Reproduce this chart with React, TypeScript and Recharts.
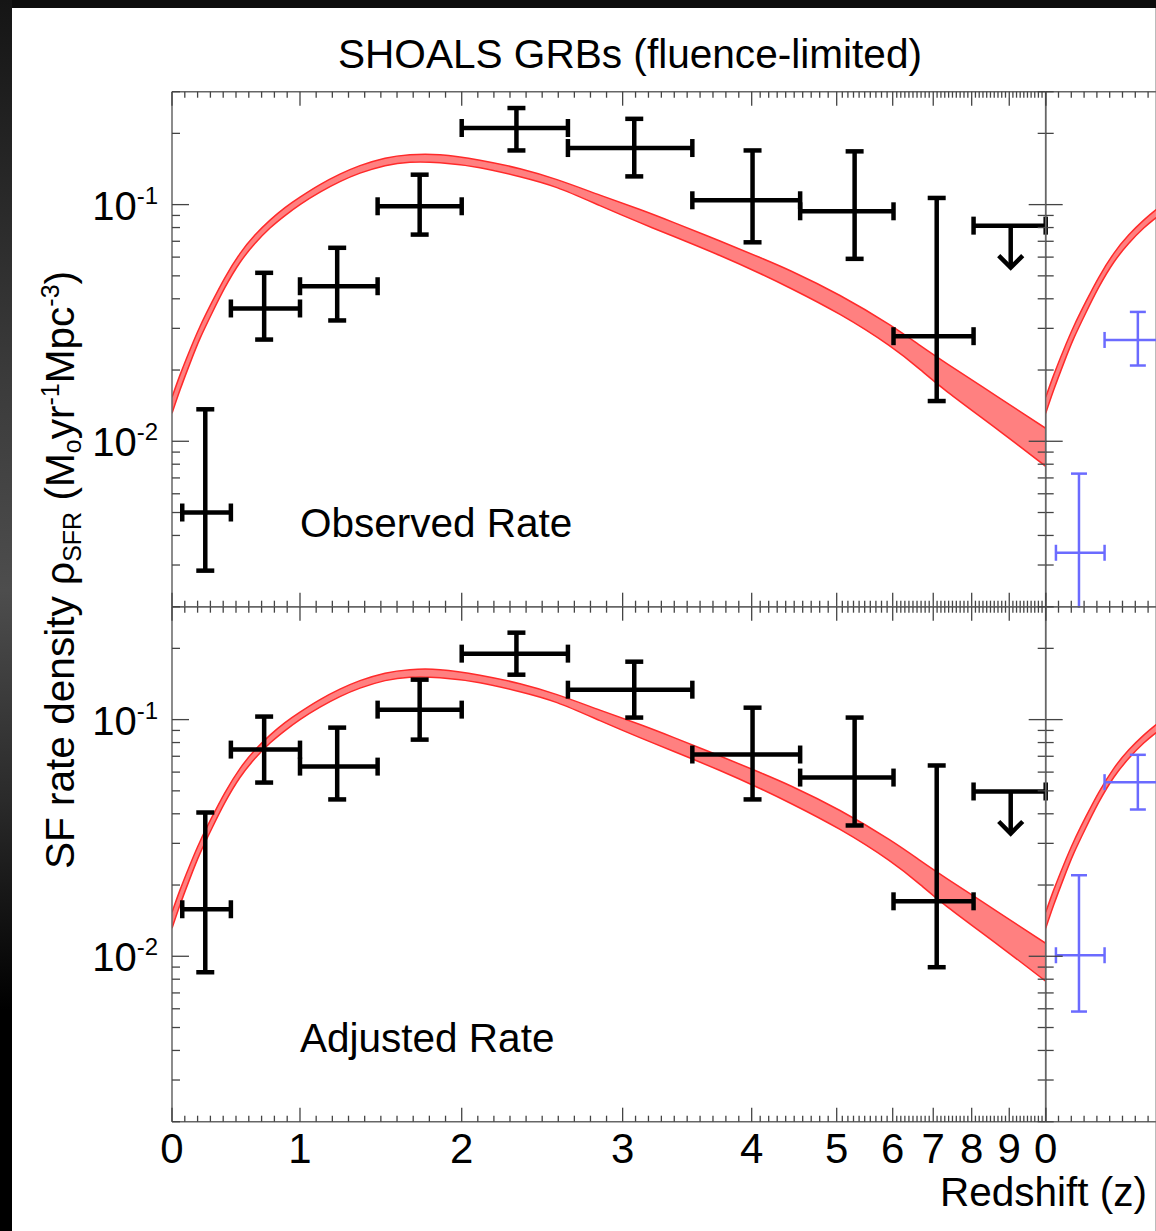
import { Area, ComposedChart, ErrorBar, Scatter, XAxis, YAxis } from 'recharts'

// horizontal axis is warped: where each whole redshift sits on a 0..10 track
const AXIS_Z = [0, 1, 2, 3, 4, 5, 6, 7, 8, 9, 10]
const AXIS_U = [0, 1.465, 3.316, 5.158, 6.635, 7.608, 8.249, 8.713, 9.153, 9.583, 10]

const Y_TICKS = [
  0.002, 0.003, 0.004, 0.005, 0.006, 0.007, 0.008, 0.009,
  0.01, 0.02, 0.03, 0.04, 0.05, 0.06, 0.07, 0.08, 0.09,
  0.1, 0.2, 0.3,
]
const X_LABELS = ['0', '1', '2', '3', '4', '5', '6', '7', '8', '9']

// model band (upper / lower edge of the SFR curve)
const CURVE_Z = [
  0, 0.063, 0.141, 0.219, 0.313, 0.414, 0.531, 0.648, 0.766, 0.883, 1.0, 1.124, 1.247, 1.371, 1.526, 1.68,
  1.866, 2.113, 2.362, 2.592, 2.859, 3.134, 3.398, 3.754, 4.098, 4.474, 5.059, 5.934, 6.672, 7.384, 8.753, 10,
]
const CURVE_HI = [
  0.01533, 0.01908, 0.02438, 0.03056, 0.03879, 0.0492, 0.0621, 0.07436, 0.08603, 0.09712, 0.10754, 0.12148, 0.13446, 0.1461, 0.15713, 0.16255,
  0.16255, 0.1541, 0.1418, 0.1275, 0.1097, 0.0953, 0.0839, 0.0702, 0.05974, 0.05217, 0.0413, 0.03116, 0.02541, 0.02113, 0.01518, 0.01135,
]
const CURVE_LO = [
  0.01312, 0.0165, 0.02139, 0.0272, 0.03484, 0.04466, 0.05692, 0.06845, 0.07961, 0.08987, 0.1, 0.11289, 0.12503, 0.13582, 0.1461, 0.15114,
  0.15041, 0.1432, 0.1312, 0.118, 0.099, 0.0839, 0.0733, 0.06092, 0.05116, 0.044, 0.03434, 0.02541, 0.02013, 0.0161, 0.01102, 0.00784,
]

// redshift bins
const BIN_LO = [0.08, 0.46, 1.0, 1.48, 2.0, 2.66, 3.54, 4.57, 6.02]
const BIN_MID = [0.26, 0.72, 1.23, 1.74, 2.34, 3.09, 4.01, 5.32, 7.09]
const BIN_HI = [0.46, 1.0, 1.48, 2.0, 2.66, 3.54, 4.57, 6.02, 8.05]
const LIMIT_BIN = [8.05, 9.04, 10]

const OBS_RATE = [0.005, 0.0364, 0.0452, 0.0984, 0.2107, 0.1734, 0.1043, 0.0937, 0.0278]
const OBS_HI = [0.01365, 0.0515, 0.0657, 0.1338, 0.2559, 0.2304, 0.1694, 0.1679, 0.1067]
const OBS_LO = [0.00284, 0.0269, 0.0324, 0.0747, 0.1694, 0.1316, 0.0693, 0.059, 0.01479]
const OBS_LIMIT = 0.0815

const ADJ_RATE = [0.0158, 0.0747, 0.0633, 0.1102, 0.19, 0.1338, 0.0712, 0.0569, 0.01707]
const ADJ_HI = [0.0405, 0.103, 0.0925, 0.1475, 0.233, 0.1757, 0.1123, 0.102, 0.064]
const ADJ_LO = [0.00856, 0.0542, 0.046, 0.0823, 0.1548, 0.102, 0.046, 0.0357, 0.00899]
const ADJ_LIMIT = 0.0497

// second sample (right-hand panel, only first bins visible)
const ALT_OBS_RATE = [0.00338, 0.0268]
const ALT_OBS_HI = [0.0073, 0.0352]
const ALT_OBS_LO = [0.0015, 0.0209]
const ALT_ADJ_RATE = [0.0101, 0.0544]
const ALT_ADJ_HI = [0.022, 0.071]
const ALT_ADJ_LO = [0.00584, 0.0417]

const FONT = "'Liberation Sans', Arial, Helvetica, sans-serif"
const PLOT_W = 873.7
const PLOT_H = 515
const AXIS_LINE = { stroke: '#666', strokeWidth: 1.5 }

const warp = (z: number) => {
  for (let i = 1; i < AXIS_Z.length; i++) {
    if (z <= AXIS_Z[i]) {
      const t = (z - AXIS_Z[i - 1]) / (AXIS_Z[i] - AXIS_Z[i - 1])
      return AXIS_U[i - 1] + t * (AXIS_U[i] - AXIS_U[i - 1])
    }
  }
  return AXIS_U[AXIS_U.length - 1]
}

const MAJOR_U = AXIS_Z.map(warp)
const X_TICKS: number[] = []
AXIS_Z.forEach((z, i) => {
  X_TICKS.push(warp(z))
  if (i < AXIS_Z.length - 1) for (let k = 1; k < 10; k++) X_TICKS.push(warp(z + k / 10))
})

const bandRows = CURVE_Z.map((z, i) => ({ u: warp(z), band: [CURVE_LO[i], CURVE_HI[i]] }))

const buildPoints = (rate: number[], lo: number[], hi: number[]) =>
  rate.map((v, i) => {
    const u = warp(BIN_MID[i])
    return {
      u,
      v,
      ex: [u - warp(BIN_LO[i]), warp(BIN_HI[i]) - u],
      ey: [v - lo[i], hi[i] - v],
    }
  })

const buildLimit = (v: number) => {
  const u = warp(LIMIT_BIN[1])
  return [{ u, v, ex: [u - warp(LIMIT_BIN[0]), warp(LIMIT_BIN[2]) - u] }]
}

const renderNone = () => <g />

const ArrowDown = (props: any) => {
  const { cx, cy } = props
  return (
    <g stroke="#000" strokeWidth={4.5} fill="none">
      <line x1={cx} y1={cy} x2={cx} y2={cy + 42} />
      <polyline points={`${cx - 12},${cy + 30} ${cx},${cy + 42} ${cx + 12},${cy + 30}`} />
    </g>
  )
}

const xTick = (side: 'top' | 'bottom', labelCount: number) => (props: any) => {
  const { x, y, payload } = props
  const major = MAJOR_U.findIndex((u) => Math.abs(u - payload.value) < 1e-6)
  const len = major >= 0 ? 14 : 6
  const dir = side === 'bottom' ? -1 : 1
  return (
    <g>
      <line x1={x} y1={y} x2={x} y2={y + dir * len} stroke="#444" strokeWidth={1.3} />
      {major >= 0 && major < labelCount && (
        <text x={x} y={y + 41} textAnchor="middle" fontSize={42} fill="#000">
          {X_LABELS[major]}
        </text>
      )}
    </g>
  )
}

const yTick = (side: 'left' | 'right', labels: boolean) => (props: any) => {
  const { x, y, payload } = props
  const lg = Math.log10(payload.value)
  const exp = Math.round(lg)
  const major = Math.abs(lg - exp) < 1e-6
  const len = major ? 17 : 8
  const dir = side === 'left' ? 1 : -1
  return (
    <g>
      <line x1={x} y1={y} x2={x + dir * len} y2={y} stroke="#444" strokeWidth={1.3} />
      {labels && major && (
        <text x={x - 14} y={y + 15} textAnchor="end" fill="#000">
          <tspan fontSize={40}>10</tspan>
          <tspan fontSize={24} dy={-16}>{String(exp)}</tspan>
        </text>
      )}
    </g>
  )
}

type PanelProps = {
  plotLeft: number
  plotTop: number
  points: ReturnType<typeof buildPoints>
  limit?: ReturnType<typeof buildLimit>
  color: string
  barWidth: number
  cap: number
  xLabelCount: number
  yLabels: boolean
  clipBottom?: boolean
}

function Panel({ plotLeft, plotTop, points, limit, color, barWidth, cap, xLabelCount, yLabels, clipBottom }: PanelProps) {
  const width = plotLeft + PLOT_W + 60
  const height = plotTop + PLOT_H + 80
  const box: React.CSSProperties = clipBottom
    ? { position: 'absolute', left: 0, top: 0, width, height: plotTop + PLOT_H + 1, overflow: 'hidden' }
    : { position: 'absolute', left: 0, top: 0 }
  return (
    <div style={box}>
      <ComposedChart
        width={width}
        height={height}
        data={bandRows}
        margin={{ top: plotTop - 1, left: plotLeft - 1, right: 59, bottom: 79 }}
      >
        <XAxis xAxisId="b" dataKey="u" type="number" domain={[0, 10]} allowDataOverflow ticks={X_TICKS} interval={0}
          orientation="bottom" height={1} tickSize={0} tickMargin={0} tickLine={false} axisLine={AXIS_LINE}
          tick={xTick('bottom', xLabelCount)} />
        <XAxis xAxisId="t" dataKey="u" type="number" domain={[0, 10]} allowDataOverflow ticks={X_TICKS} interval={0}
          orientation="top" height={1} tickSize={0} tickMargin={0} tickLine={false} axisLine={AXIS_LINE}
          tick={xTick('top', 0)} />
        <YAxis yAxisId="l" type="number" scale="log" domain={[0.002, 0.3]} allowDataOverflow ticks={Y_TICKS} interval={0}
          width={1} tickSize={0} tickMargin={0} tickLine={false} axisLine={AXIS_LINE} tick={yTick('left', yLabels)} />
        <YAxis yAxisId="r" orientation="right" type="number" scale="log" domain={[0.002, 0.3]} allowDataOverflow ticks={Y_TICKS}
          interval={0} width={1} tickSize={0} tickMargin={0} tickLine={false} axisLine={AXIS_LINE} tick={yTick('right', false)} />
        <Area xAxisId="b" yAxisId="l" type="natural" dataKey="band" stroke="#ff2a2a" strokeWidth={1.5}
          fill="#ff8080" fillOpacity={1} isAnimationActive={false} />
        <Scatter xAxisId="b" yAxisId="l" data={points} dataKey="v" shape={renderNone} isAnimationActive={false}>
          <ErrorBar direction="x" dataKey="ex" stroke={color} strokeWidth={barWidth} width={cap} />
          <ErrorBar direction="y" dataKey="ey" stroke={color} strokeWidth={barWidth} width={cap} />
        </Scatter>
        {limit && (
          <Scatter xAxisId="b" yAxisId="l" data={limit} dataKey="v" shape={ArrowDown} isAnimationActive={false}>
            <ErrorBar direction="x" dataKey="ex" stroke={color} strokeWidth={barWidth} width={cap} />
          </Scatter>
        )}
      </ComposedChart>
    </div>
  )
}

export default function App() {
  const obs = buildPoints(OBS_RATE, OBS_LO, OBS_HI)
  const adj = buildPoints(ADJ_RATE, ADJ_LO, ADJ_HI)
  const altObs = buildPoints(ALT_OBS_RATE, ALT_OBS_LO, ALT_OBS_HI)
  const altAdj = buildPoints(ALT_ADJ_RATE, ALT_ADJ_LO, ALT_ADJ_HI)
  return (
    <div style={{ position: 'fixed', left: 0, top: 0, width: 1156, height: 1231, overflow: 'hidden', background: '#0d0d0d', fontFamily: FONT }}>
      <div style={{ position: 'absolute', left: 0, top: 0, width: 12, height: 1231,
        background: 'linear-gradient(to bottom, #151515 0%, #3a3a3a 30%, #4d4d4d 48%, #2a2a2a 65%, #000 82%)' }} />
      <div style={{ position: 'absolute', left: 12, top: 8, right: 0, bottom: 0, background: '#fff' }} />
      <div style={{ position: 'absolute', left: 1155, top: 8, width: 1, bottom: 0, background: '#bbb' }} />

      <Panel plotLeft={172} plotTop={91.7} points={obs} limit={buildLimit(OBS_LIMIT)} color="#000" barWidth={4.5} cap={9} xLabelCount={0} yLabels />
      <Panel plotLeft={172} plotTop={606.7} points={adj} limit={buildLimit(ADJ_LIMIT)} color="#000" barWidth={4.5} cap={9} xLabelCount={10} yLabels />
      <Panel plotLeft={1045.7} plotTop={91.7} points={altObs} color="#6b6bff" barWidth={2.5} cap={8} xLabelCount={0} yLabels={false} clipBottom />
      <Panel plotLeft={1045.7} plotTop={606.7} points={altAdj} color="#6b6bff" barWidth={2.5} cap={8} xLabelCount={1} yLabels={false} />

      <svg width={1156} height={1231} style={{ position: 'absolute', left: 0, top: 0, pointerEvents: 'none' }}>
        <text x={630} y={68} textAnchor="middle" fontSize={40.6} fill="#000">SHOALS GRBs (fluence-limited)</text>
        <text x={300} y={537} fontSize={40.5} fill="#000">Observed Rate</text>
        <text x={300} y={1052} fontSize={40.5} fill="#000">Adjusted Rate</text>
        <text x={1147} y={1206} textAnchor="end" fontSize={40.5} fill="#000">Redshift (z)</text>
        <text transform="rotate(-90)" x={-570} y={74} textAnchor="middle" fontSize={40.6} fill="#000">
          SF rate density ρ
          <tspan fontSize={25} dy={7}>SFR</tspan>
          <tspan dy={-7}> (M</tspan>
          <tspan fontSize={25} dy={7}>o</tspan>
          <tspan dy={-7}>yr</tspan>
          <tspan fontSize={25} dy={-15}>-1</tspan>
          <tspan dy={15}>Mpc</tspan>
          <tspan fontSize={25} dy={-15}>-3</tspan>
          <tspan dy={15}>)</tspan>
        </text>
      </svg>
    </div>
  )
}
